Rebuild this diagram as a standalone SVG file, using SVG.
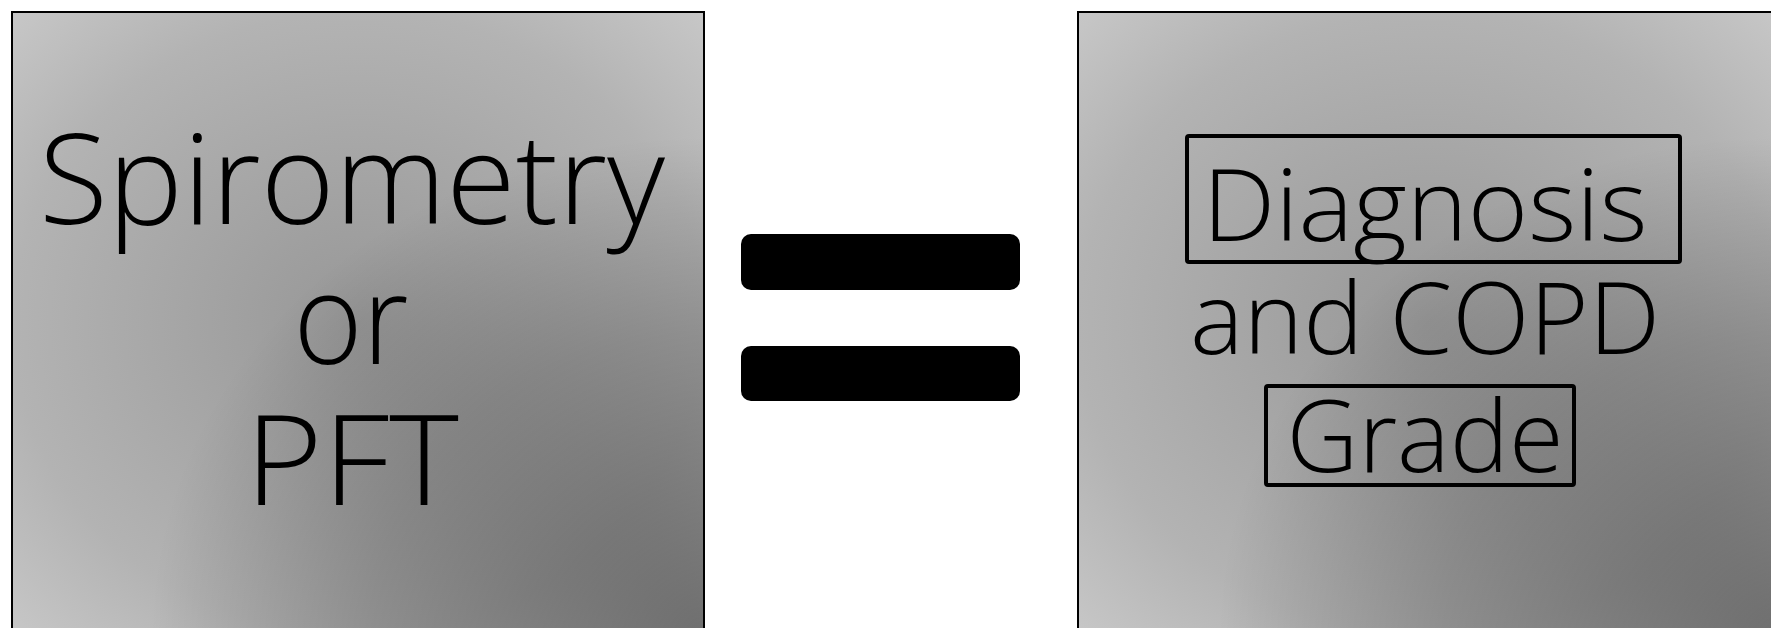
<svg xmlns="http://www.w3.org/2000/svg" width="1771" height="628" viewBox="0 0 1771 628">
  <style>
    .panel { stroke: #000; stroke-width: 2; }
    .label { font-family: "Open Sans", "Liberation Sans", sans-serif; font-weight: 300; fill: #000; text-anchor: middle; }
    .big { font-size: 125px; }
    .mid { font-size: 100px; }
    .frame { fill: none; stroke: #000; stroke-width: 4; }
    .bar { fill: #000; }
  </style>
  <defs>
    <radialGradient id="base" cx="0.5" cy="0.5" r="0.707">
      <stop offset="0" stop-color="#979797"/>
      <stop offset="0.707" stop-color="#b3b3b3"/>
      <stop offset="1" stop-color="#c7c7c7"/>
    </radialGradient>
    <radialGradient id="shade" cx="1" cy="1" r="0.8">
      <stop offset="0" stop-color="#000" stop-opacity="0.44"/>
      <stop offset="0.6" stop-color="#000" stop-opacity="0.2"/>
      <stop offset="1" stop-color="#000" stop-opacity="0"/>
    </radialGradient>
  </defs>

  <g id="node-spirometry">
    <rect x="12" y="12" width="692" height="622" fill="url(#base)"/>
    <rect x="12" y="12" width="692" height="622" fill="url(#shade)"/>
    <rect class="panel" x="12" y="12" width="692" height="622" fill="none"/>
    <text class="label big" x="352" y="224" textLength="626" lengthAdjust="spacingAndGlyphs">Spirometry</text>
    <text class="label big" x="351" y="364" textLength="115" lengthAdjust="spacingAndGlyphs">or</text>
    <text class="label big" x="352" y="505" textLength="214" lengthAdjust="spacingAndGlyphs">PFT</text>
  </g>

  <g id="node-equals">
    <rect class="bar" x="741" y="234" width="279" height="56" rx="10"/>
    <rect class="bar" x="741" y="346" width="279" height="55" rx="10"/>
  </g>

  <g id="node-diagnosis">
    <rect x="1078" y="12" width="700" height="622" fill="url(#base)"/>
    <rect x="1078" y="12" width="700" height="622" fill="url(#shade)"/>
    <rect class="panel" x="1078" y="12" width="700" height="622" fill="none"/>
    <rect class="frame" x="1187" y="136" width="493" height="126" rx="2"/>
    <text class="label mid" x="1425" y="241" textLength="445" lengthAdjust="spacingAndGlyphs">Diagnosis</text>
    <text class="label mid" x="1425" y="354" textLength="470" lengthAdjust="spacingAndGlyphs">and COPD</text>
    <rect class="frame" x="1266" y="386" width="308" height="99" rx="2"/>
    <text class="label mid" x="1425" y="472" textLength="277" lengthAdjust="spacingAndGlyphs">Grade</text>
  </g>

  <g id="connectors"></g>
</svg>
